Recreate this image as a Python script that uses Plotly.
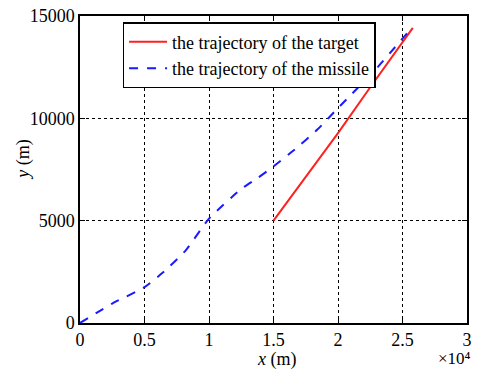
import plotly.graph_objects as go

# Data
missile_x = [0, 2500, 5000, 6400, 8200, 10000, 12500, 13800, 15000, 16500, 18400, 20000, 23000, 25650]
missile_y = [0, 950, 1750, 2450, 3550, 5100, 6550, 7100, 7650, 8400, 9450, 10500, 12450, 14370]
target_x = [15000, 17500, 20000, 22500, 25800]
target_y = [5000, 7150, 9280, 11520, 14420]
x_ticks = [0, 5000, 10000, 15000, 20000, 25000, 30000]
x_tick_labels = ["0", "0.5", "1", "1.5", "2", "2.5", "3"]
y_ticks = [0, 5000, 10000, 15000]
y_tick_labels = ["0", "5000", "10000", "15000"]

FONT = "Liberation Serif"

fig = go.Figure()
fig.add_trace(go.Scatter(x=target_x, y=target_y, mode="lines",
                         name="the trajectory of the target",
                         line=dict(color="#ff2020", width=2)))
fig.add_trace(go.Scatter(x=missile_x, y=missile_y, mode="lines",
                         name="the trajectory of the missile",
                         line=dict(color="#1a1aff", width=2, dash="dash", shape="spline", smoothing=0.5)))

axis_common = dict(showline=True, linecolor="black", linewidth=1.5, mirror="ticks",
                   ticks="inside", ticklen=5, tickcolor="black",
                   showgrid=True, gridcolor="black", griddash="dot", gridwidth=1,
                   zeroline=False, tickfont=dict(family=FONT, size=18, color="black"))

fig.update_xaxes(range=[0, 30000], tickvals=x_ticks, ticktext=x_tick_labels, **axis_common)
fig.update_yaxes(range=[0, 15000], tickvals=y_ticks, ticktext=y_tick_labels, **axis_common)

fig.update_layout(
    width=478, height=369,
    margin=dict(l=80, r=6, t=15, b=46),
    paper_bgcolor="white", plot_bgcolor="white",
    font=dict(family=FONT, color="black"),
    legend=dict(x=0.11, y=0.98, xanchor="left", yanchor="top",
                bgcolor="white", bordercolor="black", borderwidth=1.5,
                font=dict(family=FONT, size=18, color="black"),
                tracegroupgap=0, itemwidth=38),
    showlegend=True,
    annotations=[
        dict(text="<i>x</i> (m)", x=0.51, y=-0.12, xref="paper", yref="paper",
             xanchor="center", yanchor="middle", showarrow=False,
             font=dict(family=FONT, size=18, color="black")),
        dict(text="<i>y</i> (m)", x=-0.145, y=0.535, xref="paper", yref="paper",
             xanchor="center", yanchor="middle", showarrow=False, textangle=-90,
             font=dict(family=FONT, size=18, color="black")),
        dict(text="×10⁴", x=1.015, y=-0.117, xref="paper", yref="paper",
             xanchor="right", yanchor="middle", showarrow=False,
             font=dict(family=FONT, size=17, color="black")),
    ],
)

fig.write_html("out.html")
